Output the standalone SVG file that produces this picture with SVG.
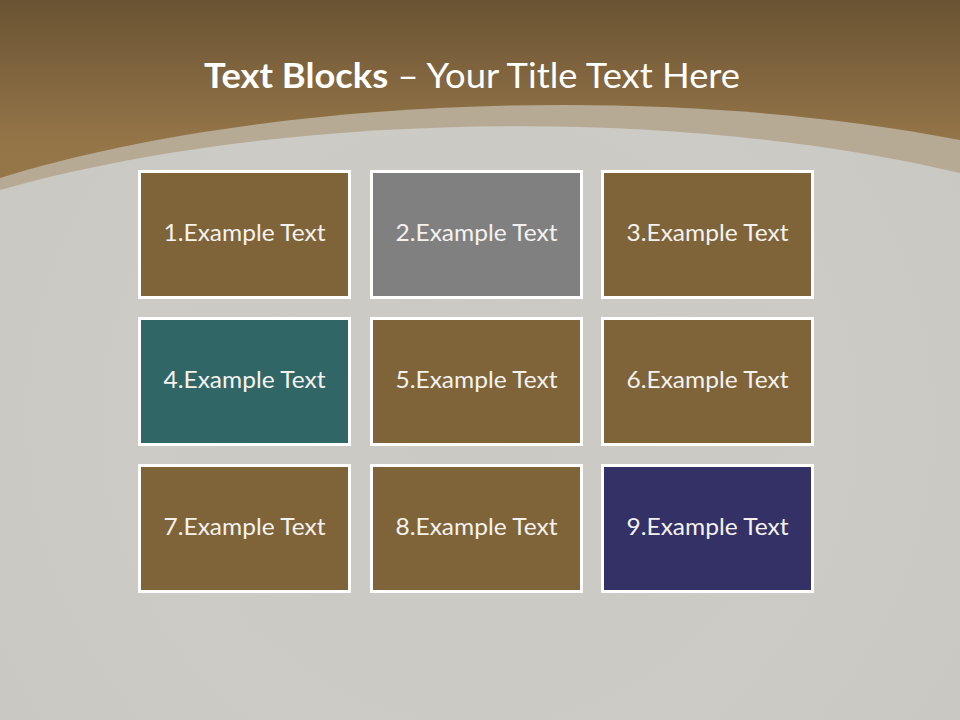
<svg xmlns="http://www.w3.org/2000/svg" width="960" height="720" viewBox="0 0 960 720">
  <defs>
    <linearGradient id="topGrad" x1="0" y1="0" x2="0" y2="1" gradientUnits="objectBoundingBox">
      <stop offset="0" stop-color="#6a5333"/>
      <stop offset="0.7" stop-color="#947548"/>
      <stop offset="1" stop-color="#967747"/>
    </linearGradient>
    <radialGradient id="grayGrad" cx="480" cy="420" r="600" gradientUnits="userSpaceOnUse">
      <stop offset="0" stop-color="#cbc9c4"/>
      <stop offset="0.6" stop-color="#cdcbc6"/>
      <stop offset="1" stop-color="#c9c7c2"/>
    </radialGradient>
    <style>
      .box { stroke: #ffffff; stroke-width: 3; }
      .brown { fill: #7f643a; }
      .grey { fill: #808080; }
      .teal { fill: #316667; }
      .navy { fill: #343166; }
      .lbl { font-family: Lato, "Open Sans", "Liberation Sans", sans-serif; font-size: 23px; fill: #f4f2ee; text-anchor: middle; }
      .title { font-family: Lato, "Open Sans", "Liberation Sans", sans-serif; font-size: 34px; fill: #ffffff; }
    </style>
  </defs>

  <!-- background -->
  <rect x="0" y="0" width="960" height="200" fill="url(#topGrad)"/>
  <path d="M0,178 C250,100 650,80 960,140 L960,720 L0,720 Z" fill="#b7aa95"/>
  <path d="M0,190 C250,118 650,100 960,173 L960,720 L0,720 Z" fill="url(#grayGrad)"/>

  <!-- title -->
  <text class="title" x="204" y="88" textLength="536" lengthAdjust="spacingAndGlyphs"><tspan font-weight="bold">Text Blocks</tspan> – Your Title Text Here</text>

  <!-- nodes -->
  <g id="node1">
    <rect class="box brown" x="139.5" y="171.5" width="210" height="126"/>
    <text class="lbl" x="244.5" y="241" textLength="162" lengthAdjust="spacingAndGlyphs">1.Example Text</text>
  </g>
  <g id="node2">
    <rect class="box grey" x="371.5" y="171.5" width="210" height="126"/>
    <text class="lbl" x="476.5" y="241" textLength="162" lengthAdjust="spacingAndGlyphs">2.Example Text</text>
  </g>
  <g id="node3">
    <rect class="box brown" x="602.5" y="171.5" width="210" height="126"/>
    <text class="lbl" x="707.5" y="241" textLength="162" lengthAdjust="spacingAndGlyphs">3.Example Text</text>
  </g>
  <g id="node4">
    <rect class="box teal" x="139.5" y="318.5" width="210" height="126"/>
    <text class="lbl" x="244.5" y="388" textLength="162" lengthAdjust="spacingAndGlyphs">4.Example Text</text>
  </g>
  <g id="node5">
    <rect class="box brown" x="371.5" y="318.5" width="210" height="126"/>
    <text class="lbl" x="476.5" y="388" textLength="162" lengthAdjust="spacingAndGlyphs">5.Example Text</text>
  </g>
  <g id="node6">
    <rect class="box brown" x="602.5" y="318.5" width="210" height="126"/>
    <text class="lbl" x="707.5" y="388" textLength="162" lengthAdjust="spacingAndGlyphs">6.Example Text</text>
  </g>
  <g id="node7">
    <rect class="box brown" x="139.5" y="465.5" width="210" height="126"/>
    <text class="lbl" x="244.5" y="535" textLength="162" lengthAdjust="spacingAndGlyphs">7.Example Text</text>
  </g>
  <g id="node8">
    <rect class="box brown" x="371.5" y="465.5" width="210" height="126"/>
    <text class="lbl" x="476.5" y="535" textLength="162" lengthAdjust="spacingAndGlyphs">8.Example Text</text>
  </g>
  <g id="node9">
    <rect class="box navy" x="602.5" y="465.5" width="210" height="126"/>
    <text class="lbl" x="707.5" y="535" textLength="162" lengthAdjust="spacingAndGlyphs">9.Example Text</text>
  </g>

  <g id="connectors"/>
</svg>
